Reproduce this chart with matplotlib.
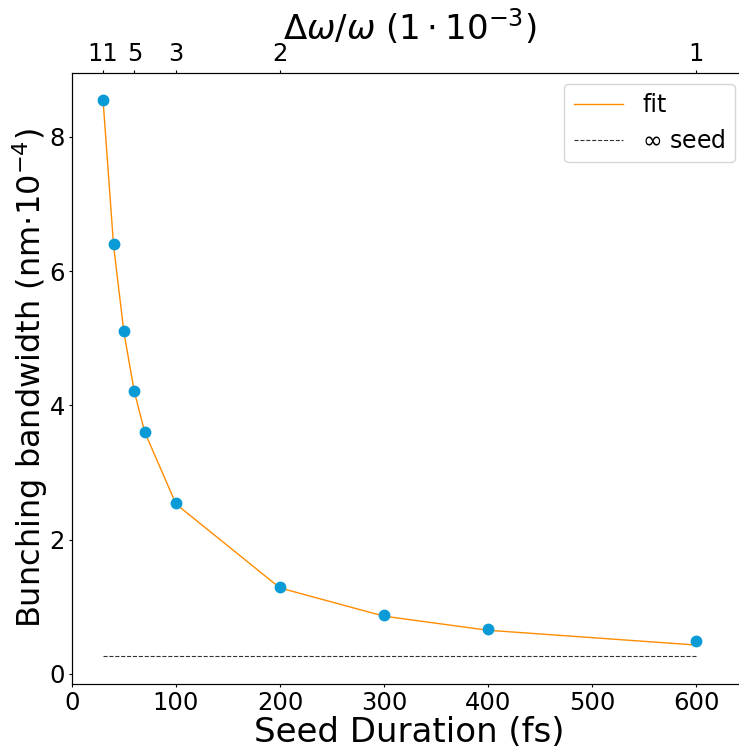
import numpy as np
import matplotlib as mpl
mpl.use('Agg')
import matplotlib.pyplot as plt

# seed durations (fs) and measured bunching bandwidth (nm 1e-4)
duration = [30, 40, 50, 60, 70, 100, 200, 300, 400, 600]
bandwidth = [8.55, 6.41, 5.11, 4.22, 3.61, 2.55, 1.30, 0.88, 0.67, 0.49]
fit_vals = [8.52, 6.38, 5.08, 4.20, 3.60, 2.53, 1.28, 0.86, 0.65, 0.43]
inf_seed = 0.27
inf_range = [30, 600]

top_ticks = [30, 60, 100, 200, 600]
top_labels = ['11', '5', '3', '2', '1']

fig = plt.figure(figsize=(7.39, 7.48), dpi=100)
# right spine sits just past the figure edge, as in the original
ax = fig.add_axes([0.0974, 0.0856, 0.9134, 0.8168])

ax.plot(duration, fit_vals, color='#ff8c00', lw=1, label='fit', zorder=2)
ax.plot(inf_range, [inf_seed, inf_seed], '--', color='#333333', lw=0.8,
        label=r'$\infty$ seed', zorder=2)
ax.plot(duration, bandwidth, 'o', color='#0a9bd6', ms=7.5, zorder=3)

ax.set_xlim(0, 649)
ax.set_ylim(-0.15, 8.95)
ax.set_xticks([0, 100, 200, 300, 400, 500, 600])
ax.set_yticks([0, 2, 4, 6, 8])
ax.tick_params(labelsize=17.5, length=2, pad=3)
ax.set_xlabel('Seed Duration (fs)', fontsize=24.5, labelpad=1)
ax.set_ylabel(r'Bunching bandwidth (nm$\cdot 10^{-4}$)', fontsize=23, labelpad=0)
ax.legend(loc='upper right', fontsize=17, handlelength=2.1, borderaxespad=0.45,
          bbox_to_anchor=(0.998, 1.0))

ax2 = ax.twiny()
ax2.set_xlim(ax.get_xlim())
ax2.set_xticks(top_ticks)
ax2.set_xticklabels(top_labels)
ax2.tick_params(labelsize=17.5, length=2, pad=3)
ax2.set_xlabel(r'$\Delta\omega/\omega$ $(1\cdot 10^{-3})$', fontsize=24.5, labelpad=2)

fig.savefig('out.png', dpi=100)
